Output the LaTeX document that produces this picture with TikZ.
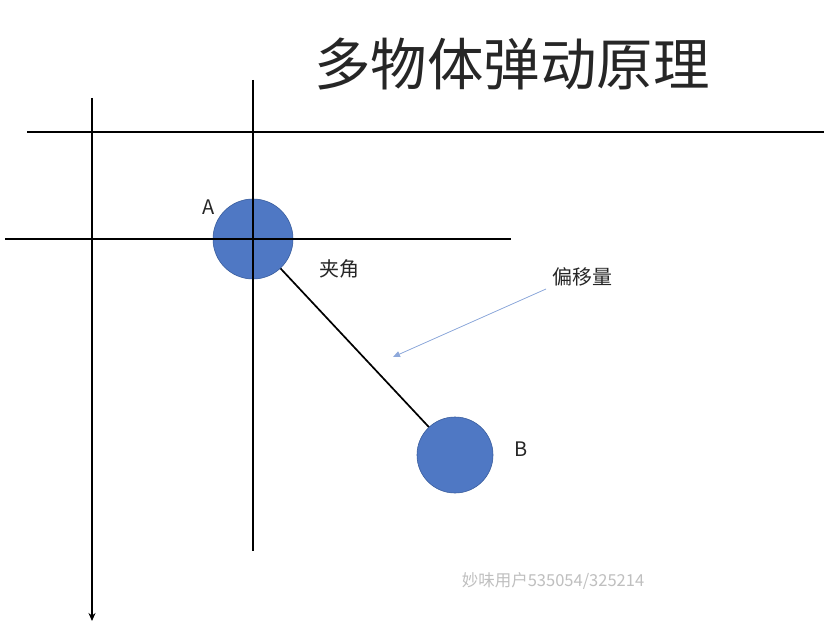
\documentclass[tikz,border=0pt]{standalone}
\usepackage{fontspec}
\setmainfont{Noto Sans CJK SC}
\newfontfamily\cjk{Noto Sans CJK SC}
\usetikzlibrary{arrows.meta}
\definecolor{ballfill}{HTML}{4F78C4}
\definecolor{balledge}{HTML}{3A5E9E}
\definecolor{arrowblue}{HTML}{8EA9DB}
\tikzset{
  axis/.style={line width=1.7pt, black},
  ball/.style={circle, fill=ballfill, draw=balledge, line width=0.6pt, inner sep=0pt},
  lbl/.style={font=\cjk\fontsize{20}{20}\selectfont, text=black!85, inner sep=0pt},
}
\begin{document}
\begin{tikzpicture}[x=1pt,y=-1pt]
\useasboundingbox (0,0) rectangle (824,628);
\fill[white] (0,0) rectangle (824,628);
% title
\node[font=\cjk\fontsize{56.5}{56.5}\selectfont, text=black!85, inner sep=0pt] (title) at (512,64) {多物体弹动原理};
% link line
\coordinate (ca) at (253,239);
\coordinate (cb) at (455,455);
\draw[line width=1.7pt] (ca) -- (cb);
% balls
\node[ball, minimum size=80pt] (A) at (ca) {};
\node[ball, minimum size=76pt] (B) at (cb) {};
% axes
\coordinate (h1s) at (27,132); \coordinate (h1e) at (824,132);
\draw[axis] (h1s) -- (h1e);
\coordinate (v1s) at (92,98); \coordinate (v1e) at (92,621);
\draw[axis, -{Stealth[length=8pt,width=7pt]}] (v1s) -- (v1e);
\coordinate (v2s) at (253,80); \coordinate (v2e) at (253,551);
\draw[axis] (v2s) -- (v2e);
\coordinate (h2s) at (5,239); \coordinate (h2e) at (511,239);
\draw[axis] (h2s) -- (h2e);
% labels
\node[lbl] (la) at (209,207) {A};
\node[lbl] (lb) at (521,449) {B};
\node[lbl] (angle) at (339,269) {夹角};
\node[lbl] (offset) at (582,277) {偏移量};
\coordinate (arrStart) at (546,289);
\coordinate (arrEnd) at (393,357);
\draw[arrowblue, line width=0.8pt, -{Triangle[length=7pt,width=6pt]}] (arrStart) -- (arrEnd);
% watermark
\node[font=\cjk\fontsize{16.5}{16.5}\selectfont, text=black!25, inner sep=0pt] (wm) at (553,581) {妙味用户535054/325214};
\end{tikzpicture}
\end{document}
